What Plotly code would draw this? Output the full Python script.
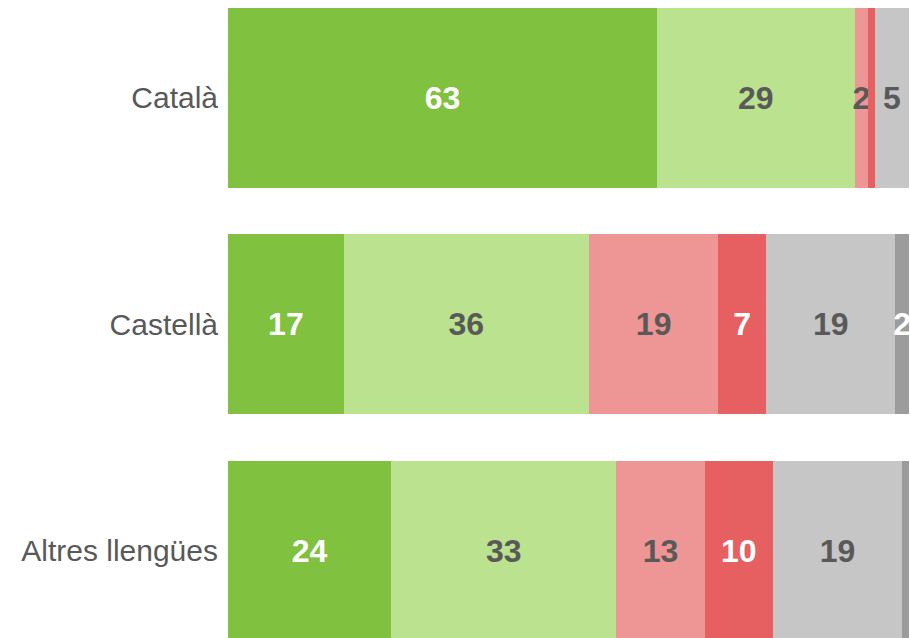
import plotly.graph_objects as go

categories = ["Català", "Castellà", "Altres llengües"]
series_names = ["Molt", "Bastant", "Poc", "Gens", "No ho sap", "No contesta"]
molt = [63, 17, 24]
bastant = [29, 36, 33]
poc = [2, 19, 13]
gens = [1, 7, 10]
no_sap = [5, 19, 19]
no_contesta = [0, 2, 1]

series_values = [molt, bastant, poc, gens, no_sap, no_contesta]
colors = ["#80C13F", "#BAE28F", "#EE9595", "#E66062", "#C6C6C6", "#9C9C9C"]
text_colors = ["#FFFFFF", "#595959", "#595959", "#FFFFFF", "#595959", "#FFFFFF"]

fig = go.Figure()
for name, vals, col, tcol in zip(series_names, series_values, colors, text_colors):
    fig.add_trace(go.Bar(
        y=categories,
        x=vals,
        orientation="h",
        name=name,
        marker=dict(color=col, line=dict(width=0)),
        width=0.795,
        text=[str(v) if v >= 2 else "" for v in vals],
        textposition="inside",
        insidetextanchor="middle",
        textangle=0,
        textfont=dict(family="Liberation Sans, Arial, sans-serif", size=32, color=tcol, weight="bold"),
        hoverinfo="skip",
        showlegend=False,
    ))

fig.update_layout(
    barmode="stack",
    width=910,
    height=638,
    margin=dict(l=228, r=1, t=0, b=0),
    paper_bgcolor="white",
    plot_bgcolor="white",
    uniformtext=dict(minsize=32, mode="show"),
    xaxis=dict(range=[0, 100], visible=False, fixedrange=True),
    yaxis=dict(
        type="category",
        categoryorder="array",
        categoryarray=categories,
        range=[2.3845, -0.4327],
        showgrid=False,
        zeroline=False,
        showline=False,
        ticks="",
        ticklabelstandoff=9,
        fixedrange=True,
        tickfont=dict(family="Liberation Sans, Arial, sans-serif", size=30, color="#595959"),
    ),
)

fig.write_html(
    "out.html",
    config={"displayModeBar": False},
    post_script="document.body.style.margin='0'; document.body.style.overflow='hidden';",
)
